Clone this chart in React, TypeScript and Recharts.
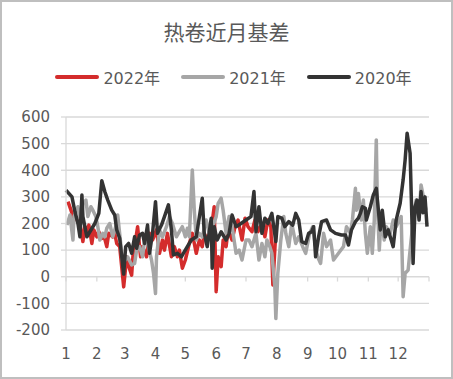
import { LineChart, Line, XAxis, YAxis, CartesianGrid, ReferenceLine } from 'recharts';

// x = day of year, month labels sit on the first day of each month
const MONTH_START = [0, 31, 59, 90, 120, 151, 181, 212, 243, 273, 304, 334];
const MONTH_LABELS = ['1', '2', '3', '4', '5', '6', '7', '8', '9', '10', '11', '12'];
const Y_TICKS = [-200, -100, 0, 100, 200, 300, 400, 500, 600];

const days2022 = [2, 5, 7, 9, 11, 14, 17, 19, 21, 23, 26, 28, 31, 33, 36, 38, 41, 43, 47, 49, 51, 54, 58, 61, 63, 66, 68, 70, 72, 75, 77, 81, 84, 87, 91, 94, 97, 99, 102, 106, 109, 112, 114, 117, 120, 124, 127, 131, 134, 137, 139, 142, 146, 149, 151, 153, 156, 158, 161, 163, 167, 170, 173, 177, 180, 183, 187, 190, 193, 197, 200, 203, 206, 208, 211];
const basis2022 = [282, 250, 226, 232, 213, 200, 132, 188, 169, 194, 125, 176, 150, 169, 144, 157, 113, 163, 150, 163, 125, 113, -38, 75, 40, 6, 113, 138, 188, 75, 113, 75, 163, 138, 176, 88, 138, 100, 163, 75, 113, 75, 100, 32, 63, 125, 163, 88, 138, 113, 163, 138, 176, 263, -56, 75, 38, 138, 113, 176, 138, 188, 213, 138, 220, 188, 169, 213, 169, 200, 150, 213, 188, -31, 170];

const days2021 = [1, 4, 7, 8, 12, 15, 17, 20, 22, 25, 27, 30, 32, 34, 37, 39, 41, 44, 47, 50, 52, 55, 57, 62, 66, 69, 71, 74, 77, 79, 82, 86, 88, 90, 91, 94, 97, 101, 104, 107, 111, 115, 117, 120, 122, 124, 127, 129, 131, 134, 137, 141, 144, 147, 151, 153, 156, 158, 161, 164, 167, 171, 174, 177, 181, 184, 187, 191, 194, 197, 200, 202, 205, 207, 210, 211, 213, 216, 219, 221, 224, 227, 231, 234, 238, 241, 245, 248, 251, 253, 256, 259, 262, 266, 269, 274, 279, 282, 286, 288, 291, 292, 294, 297, 299, 301, 303, 306, 308, 310, 312, 313, 315, 317, 320, 322, 326, 329, 332, 337, 339, 341, 344, 347, 350, 352, 355, 357, 360, 362];
const basis2021 = [194, 232, 138, 226, 263, 200, 276, 288, 226, 263, 250, 226, 188, 138, 163, 150, 182, 200, 150, 188, 232, 125, 50, 75, 44, 50, 100, 113, 75, 138, 125, 63, 13, -63, 75, 176, 150, 188, 226, 200, 150, 176, 188, 150, 182, 150, 401, 250, 138, 163, 150, 213, 163, 182, 226, 276, 295, 250, 163, 226, 188, 88, 100, 63, 138, 138, 113, 163, 63, 125, 75, 138, 113, 88, -38, -157, 13, 138, 226, 163, 113, 200, 125, 150, 113, 88, 163, 188, 113, 75, 50, 163, 113, 138, 63, 88, 113, 188, 163, 213, 332, 250, 313, 213, 288, 163, 88, 188, 88, 213, 514, 288, 100, 226, 138, 188, 163, 213, 188, 226, -75, 13, 25, 138, 238, 288, 226, 345, 288, 250];

const days2020 = [0, 6, 9, 12, 14, 16, 17, 21, 24, 29, 33, 36, 39, 42, 46, 49, 51, 54, 58, 60, 63, 66, 69, 71, 74, 77, 79, 82, 84, 87, 90, 92, 96, 99, 103, 106, 108, 112, 116, 119, 122, 126, 131, 137, 139, 142, 146, 147, 149, 152, 156, 161, 164, 167, 171, 176, 181, 186, 189, 191, 194, 197, 200, 203, 207, 211, 213, 217, 220, 224, 228, 231, 234, 237, 241, 244, 247, 249, 251, 254, 257, 262, 266, 271, 277, 281, 284, 287, 291, 294, 296, 298, 301, 302, 306, 309, 312, 316, 318, 321, 324, 329, 332, 336, 339, 341, 343, 346, 349, 351, 353, 355, 357, 359, 361, 363];
const basis2020 = [325, 300, 244, 200, 150, 307, 226, 150, 169, 200, 238, 361, 320, 288, 250, 232, 176, 144, 10, 113, 125, 88, 150, 107, 157, 163, 125, 194, 88, 163, 282, 163, 194, 226, 270, 176, 82, 88, 75, 94, 113, 138, 150, 295, 164, 113, 220, 32, 188, 138, 169, 138, 163, 232, 188, 200, 213, 226, 320, 169, 263, 163, 220, 200, 238, 132, 226, 220, 188, 207, 194, 238, 213, 132, 125, 163, 169, 188, 75, 150, 207, 213, 176, 163, 157, 157, 119, 176, 207, 220, 238, 263, 257, 213, 263, 307, 332, 176, 250, 150, 176, 113, 213, 276, 364, 439, 539, 464, 50, 263, 288, 213, 320, 240, 300, 188];

const SERIES = [
  { name: '2022年', color: '#d42c2c', days: days2022, values: basis2022 },
  { name: '2021年', color: '#a6a6a6', days: days2021, values: basis2021 },
  { name: '2020年', color: '#333333', days: days2020, values: basis2020 },
];

const TEXT = '#595959';
const GRID = '#d9d9d9';
const FONT = '"DejaVu Sans", "Noto Sans CJK SC", sans-serif';

export default function App() {
  const series = SERIES.map(s => ({
    ...s,
    data: s.days.map((d, i) => ({ day: d, basis: s.values[i] })),
  }));

  return (
    <div style={{ position: 'absolute', left: 0, top: 0, width: 453, height: 379, background: '#fff' }}>
      {/* title */}
      <div
        style={{
          position: 'absolute', top: 18, left: 0, width: 453, textAlign: 'center',
          fontFamily: '"Noto Sans CJK SC", sans-serif', fontSize: 21, color: TEXT, lineHeight: '26px',
        }}
      >
        热卷近月基差
      </div>

      {/* legend */}
      <div
        style={{
          position: 'absolute', top: 66, left: 7, width: 453, height: 22, display: 'flex',
          justifyContent: 'center', alignItems: 'center', fontFamily: FONT, fontSize: 16, color: TEXT,
        }}
      >
        {series.map((s, i) => (
          <div key={s.name} style={{ display: 'flex', alignItems: 'center', marginLeft: i === 0 ? 0 : 21 }}>
            <svg width={44} height={8} style={{ marginRight: 4 }}>
              <line x1={2} y1={4} x2={42} y2={4} stroke={s.color} strokeWidth={4} strokeLinecap="round" />
            </svg>
            <span>{s.name}</span>
          </div>
        ))}
      </div>

      <div style={{ position: 'absolute', left: 0, top: 0 }}>
        <LineChart width={453} height={379} margin={{ top: 117, right: 24, bottom: 9, left: 0 }}>
          <CartesianGrid vertical={false} stroke={GRID} strokeWidth={1.3} />
          <XAxis
            dataKey="day"
            type="number"
            domain={[0, 365]}
            ticks={MONTH_START}
            interval={0}
            tickFormatter={(v: number) => MONTH_LABELS[MONTH_START.indexOf(v)]}
            axisLine={false}
            tickLine={false}
            tickSize={6}
            tickMargin={12}
            height={40}
            tick={{ fill: TEXT, fontSize: 15, fontFamily: FONT }}
          />
          <YAxis
            type="number"
            domain={[-200, 600]}
            ticks={Y_TICKS}
            interval={0}
            width={66}
            axisLine={{ stroke: GRID, strokeWidth: 1.3 }}
            tickLine={{ stroke: GRID, strokeWidth: 1.3 }}
            tickSize={5}
            tickMargin={11}
            tick={{ fill: TEXT, fontSize: 15, fontFamily: FONT }}
          />
          {[...MONTH_START, 365].map(d => (
            <ReferenceLine
              key={`tick-${d}`}
              segment={[{ x: d, y: 0 }, { x: d, y: -18 }]}
              stroke={GRID}
              strokeWidth={1.3}
            />
          ))}
          {series.map(s => (
            <Line
              key={s.name}
              data={s.data}
              dataKey="basis"
              name={s.name}
              stroke={s.color}
              strokeWidth={3.5}
              strokeLinejoin="round"
              dot={false}
              activeDot={false}
              isAnimationActive={false}
            />
          ))}
        </LineChart>
      </div>

      {/* outer frame */}
      <div
        style={{
          position: 'absolute', left: 0, top: 0, width: 453, height: 379, boxSizing: 'border-box',
          border: '2px solid #bfbfbf', pointerEvents: 'none',
        }}
      />
    </div>
  );
}
